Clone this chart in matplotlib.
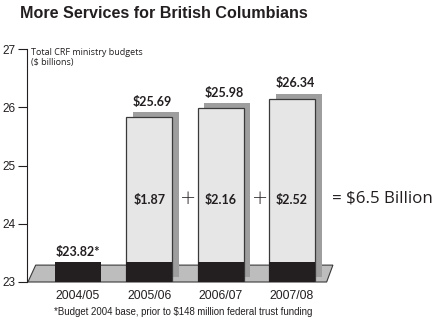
import matplotlib
matplotlib.use("Agg")
import matplotlib.pyplot as plt
from matplotlib.patches import Polygon, Rectangle

# ---- data ----
years = ['2004/05', '2005/06', '2006/07', '2007/08']
total_labels = ['$23.82*', '$25.69', '$25.98', '$26.34']
drawn_tops = [23.34, 25.83, 25.98, 26.15]   # bar tops as drawn in the picture
base_level = 23.34                          # top of the dark base block
increment_labels = [None, '$1.87', '$2.16', '$2.52']
sum_label = '= $6.5 Billion'
yticks = [23, 24, 25, 26, 27]
title = 'More Services for British Columbians'
axis_note = 'Total CRF ministry budgets\n($ billions)'
footnote = '*Budget 2004 base, prior to $148 million federal trust funding'

W, H = 438, 323
fig = plt.figure(figsize=(W / 100, H / 100), dpi=100)
ax = fig.add_axes([27 / W, 1 - 282 / H, 1 - 27 / W, (282 - 49) / H])
ax.set_ylim(23, 27)
ax.set_xlim(-0.715, 5.05)

pos = list(range(len(years)))
bw = 0.645
sdx, sdy = 0.094, 0.086

dark = '#231f20'
light = '#e6e6e6'
shadow = '#9e9e9e'
plat = '#bdbdbd'
edge = '#3a3a3a'
bold_font = 'Lato'

# platform
plat_h = 0.29
ax.add_patch(Polygon([(-0.702, 23), (-0.593, 23 + plat_h), (3.576, 23 + plat_h), (3.488, 23)],
                     closed=True, facecolor=plat, edgecolor=edge, linewidth=0.8, zorder=1, clip_on=False))

for i, p in enumerate(pos):
    top = drawn_tops[i]
    if top > base_level + 0.01:
        ax.add_patch(Rectangle((p - bw / 2 + sdx, 23 + sdy), bw, top - 23, facecolor=shadow,
                               edgecolor='none', zorder=2))
        ax.add_patch(Rectangle((p - bw / 2, 23), bw, top - 23, facecolor=light,
                               edgecolor=edge, linewidth=0.9, zorder=3))
        lbl_x = p + sdx / 2
        lbl_y = top + sdy
    else:
        lbl_x = p
        lbl_y = base_level
    ax.add_patch(Rectangle((p - bw / 2, 23), bw, base_level - 23, facecolor=dark,
                           edgecolor='none', zorder=4))
    ax.annotate(total_labels[i], (lbl_x, lbl_y), xytext=(0, 3), textcoords='offset points',
                ha='center', va='bottom', fontsize=9, fontweight='bold',
                family=bold_font, color='#231f20', zorder=6)
    if increment_labels[i]:
        ax.text(p, 24.41, increment_labels[i], ha='center', va='center', fontsize=9,
                fontweight='bold', family=bold_font, color='#231f20', zorder=6)

# plus signs between bars
for i in range(1, len(pos) - 1):
    ax.text(pos[i] + 0.5 + 0.05, 24.43, '+', ha='center', va='center', fontsize=14,
            family='DejaVu Sans', fontweight='light', color='#231f20')
ax.text(pos[-1] + 0.56, 24.44, sum_label, ha='left', va='center', fontsize=12.2,
        family='Open Sans', color='#231f20')

# axes styling
for s in ['top', 'right', 'bottom']:
    ax.spines[s].set_visible(False)
ax.spines['left'].set_color('#231f20')
ax.spines['left'].set_linewidth(0.8)
ax.set_yticks(yticks)
ax.set_yticklabels([str(t) for t in yticks], family='Liberation Sans', fontsize=8.5, color='#231f20')
ax.tick_params(axis='y', direction='out', length=6.5, width=0.8, pad=1.5, color='#231f20')
ax.set_xticks(pos)
ax.set_xticklabels(years, family='Liberation Sans', fontsize=8.8, color='#231f20')
ax.tick_params(axis='x', length=0, pad=6)

ax.text(-0.66, 27.02, axis_note, ha='left', va='top', fontsize=6.5, family='Open Sans',
        color='#231f20', linespacing=1.1)

fig.text(20 / W, 1 - 13 / H, title, ha='left', va='center', fontsize=11.6,
         fontweight='bold', family='Liberation Sans', color='#231f20')
fig.text(54 / W, 1 - 312 / H, footnote, ha='left', va='center', fontsize=6.9,
         family='Liberation Sans', color='#231f20')

fig.savefig('out.png', dpi=100)
